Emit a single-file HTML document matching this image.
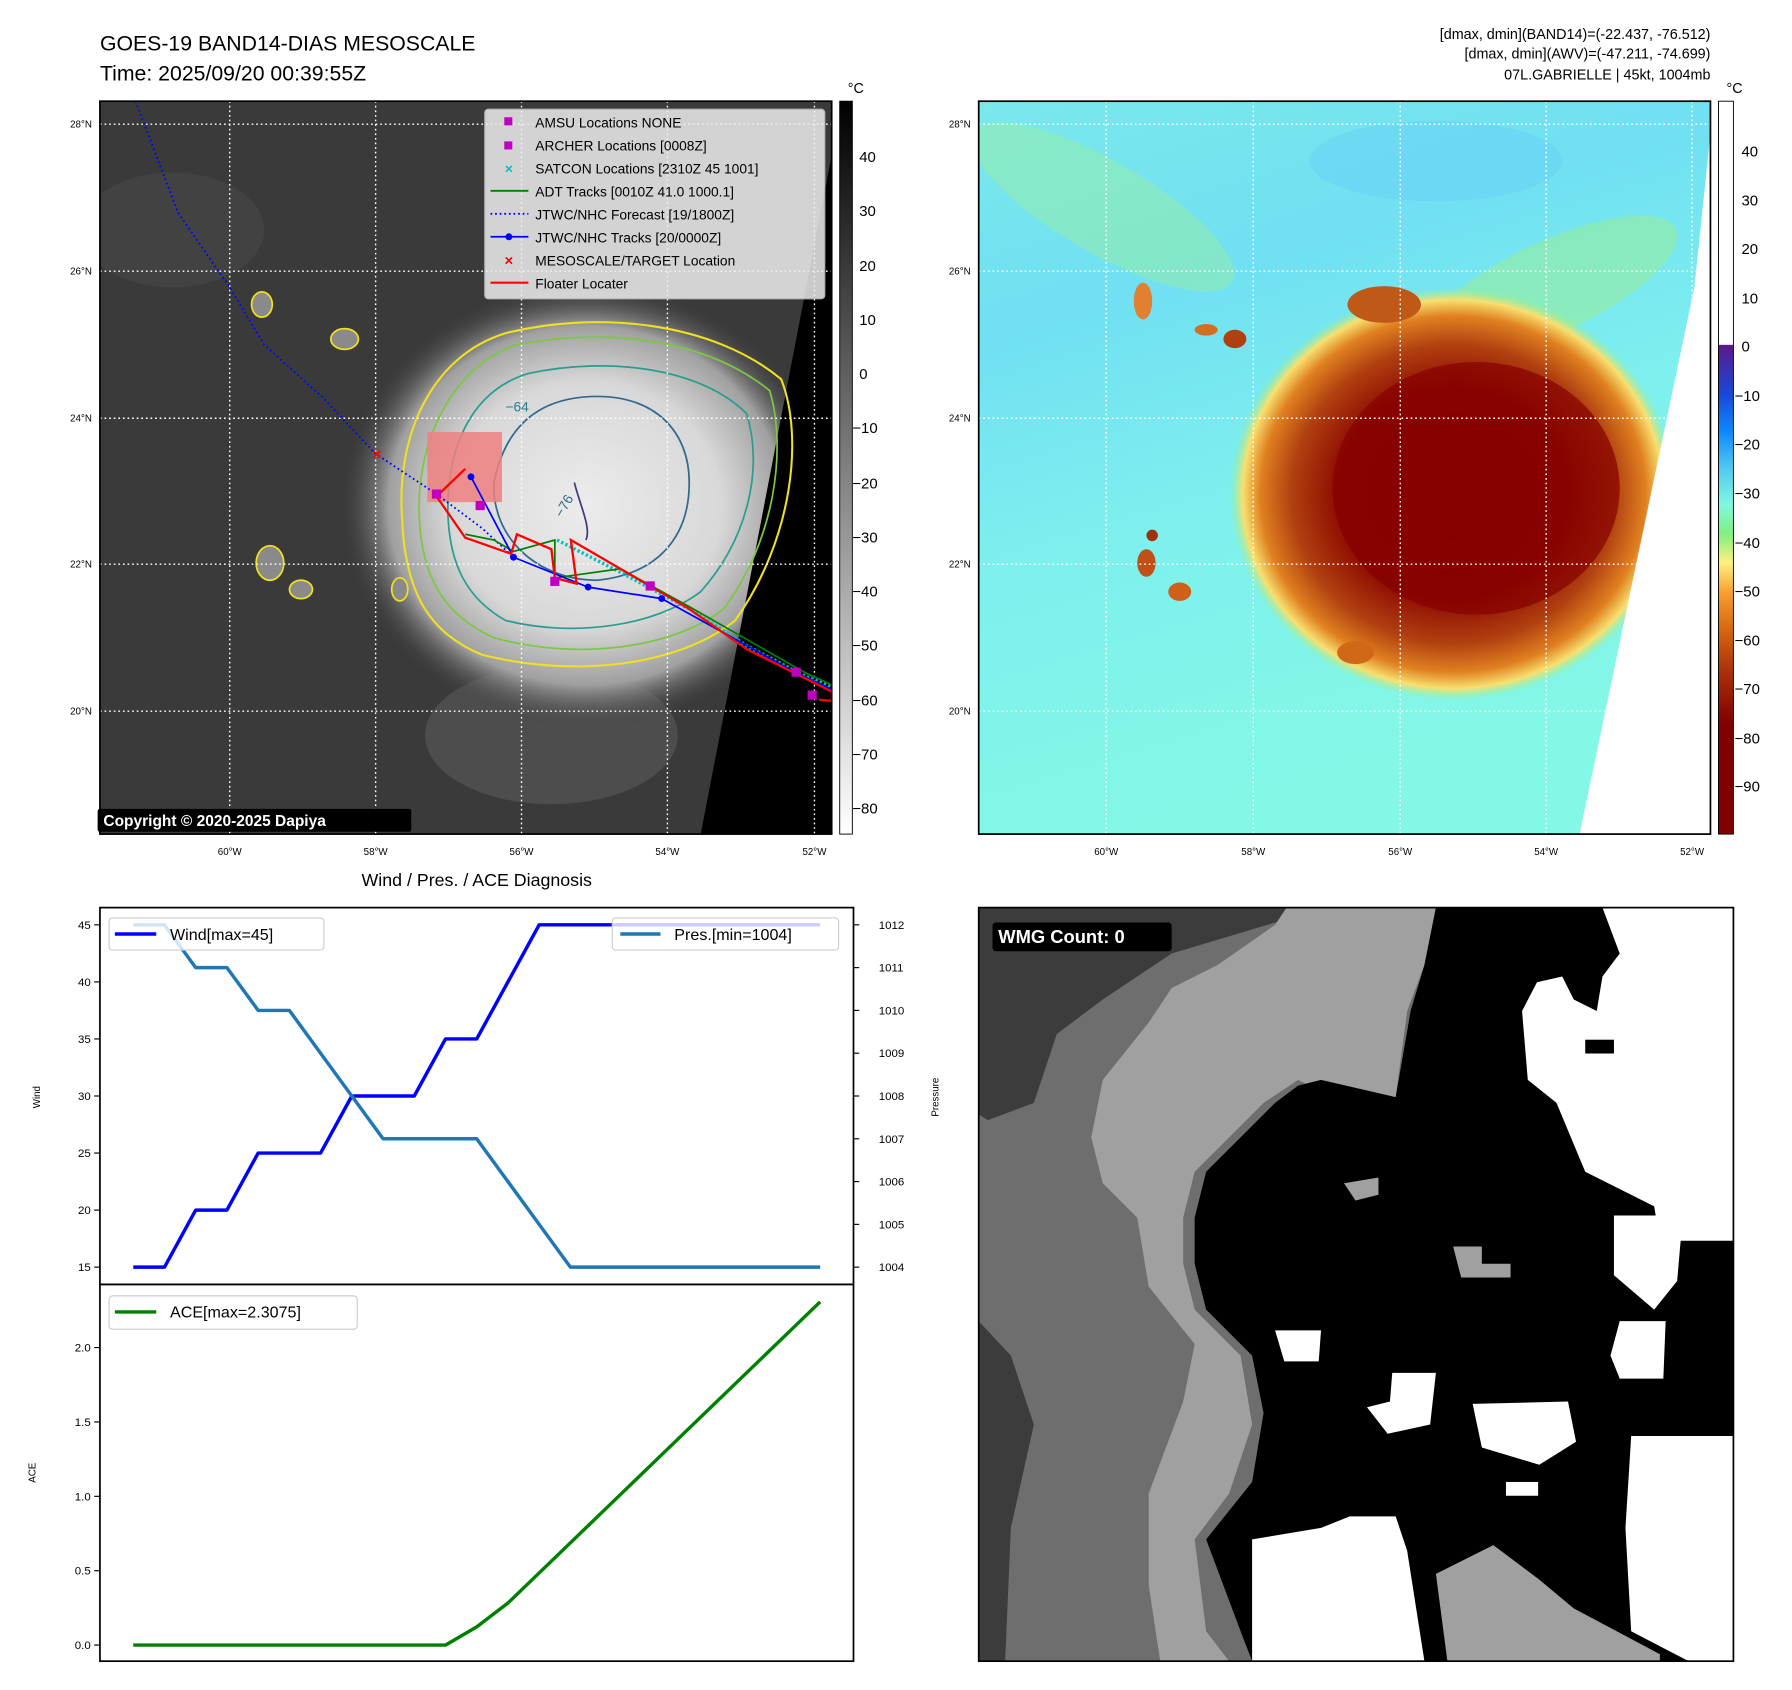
<!DOCTYPE html>
<html><head><meta charset="utf-8">
<style>
html,body{margin:0;padding:0;background:#fff;}
svg{display:block;font-family:"Liberation Sans","DejaVu Sans",sans-serif;}
</style></head>
<body>
<svg id="root" width="1792" height="1690" viewBox="0 0 1560 1471" xmlns="http://www.w3.org/2000/svg">
<defs>
  <radialGradient id="stormGray" cx="0.5" cy="0.5" r="0.5">
    <stop offset="0" stop-color="#ececec"/>
    <stop offset="0.55" stop-color="#d8d8d8"/>
    <stop offset="0.8" stop-color="#a0a0a0"/>
    <stop offset="1" stop-color="#3a3a3a" stop-opacity="0"/>
  </radialGradient>
  <radialGradient id="stormColor" cx="0.5" cy="0.5" r="0.5">
    <stop offset="0" stop-color="#840000"/>
    <stop offset="0.5" stop-color="#8c0800"/>
    <stop offset="0.72" stop-color="#b04010"/>
    <stop offset="0.86" stop-color="#e08020"/>
    <stop offset="0.94" stop-color="#f8e070"/>
    <stop offset="1" stop-color="#90f090" stop-opacity="0"/>
  </radialGradient>
  <linearGradient id="cbGray" x1="0" y1="0" x2="0" y2="1">
    <stop offset="0" stop-color="#000"/>
    <stop offset="1" stop-color="#fff"/>
  </linearGradient>
  <linearGradient id="cbColor" x1="0" y1="0" x2="0" y2="1">
    <stop offset="0" stop-color="#fff"/>
    <stop offset="0.332" stop-color="#fff"/>
    <stop offset="0.333" stop-color="#5a1a8a"/>
    <stop offset="0.40" stop-color="#1848d8"/>
    <stop offset="0.45" stop-color="#0c88ff"/>
    <stop offset="0.50" stop-color="#50c8f0"/>
    <stop offset="0.55" stop-color="#80f8e0"/>
    <stop offset="0.59" stop-color="#80f080"/>
    <stop offset="0.63" stop-color="#fff080"/>
    <stop offset="0.67" stop-color="#f8a030"/>
    <stop offset="0.72" stop-color="#d86810"/>
    <stop offset="0.78" stop-color="#a83008"/>
    <stop offset="0.85" stop-color="#800000"/>
    <stop offset="1" stop-color="#800000"/>
  </linearGradient>
  <linearGradient id="bgColor" x1="0" y1="0" x2="0.3" y2="1">
    <stop offset="0" stop-color="#7ae8ec"/>
    <stop offset="0.3" stop-color="#70e0f2"/>
    <stop offset="0.6" stop-color="#7ef0ee"/>
    <stop offset="1" stop-color="#84f8e6"/>
  </linearGradient>
  <clipPath id="clipTL"><rect x="87" y="88" width="637" height="638"/></clipPath>
  <clipPath id="clipTR"><rect x="852" y="88" width="637" height="638"/></clipPath>
  <clipPath id="clipWMG"><rect x="852" y="790" width="657" height="656"/></clipPath>
</defs>

<!-- ============ TOP LEFT MAP ============ -->
<g>
  <text x="87" y="44" font-size="18.5" fill="#000">GOES-19 BAND14-DIAS MESOSCALE</text>
  <text x="87" y="70" font-size="18.5" fill="#000">Time: 2025/09/20 00:39:55Z</text>
  <g clip-path="url(#clipTL)">
    <rect x="87" y="88" width="637" height="638" fill="#3a3a3a"/>
    <ellipse cx="150" cy="200" rx="80" ry="50" fill="#4a4a4a" opacity="0.5"/>
    <ellipse cx="480" cy="640" rx="110" ry="60" fill="#5a5a5a" opacity="0.6"/>
    <ellipse cx="510" cy="440" rx="215" ry="195" fill="url(#stormGray)"/>
    <polygon points="733,88 724,135 610,726 724,726 724,88" fill="#000"/>
    <path d="M350,450 C345,380 375,310 440,290 C520,270 620,280 680,330 C700,380 690,470 640,540 C590,580 500,590 420,570 C370,550 352,510 350,450 Z" fill="none" stroke="#f0e020" stroke-width="1.8"/>
    <path d="M365,450 C362,390 390,320 450,300 C530,285 615,295 670,340 C685,390 675,470 630,530 C585,565 500,575 430,555 C385,535 367,500 365,450 Z" fill="none" stroke="#7cc840" stroke-width="1.5"/>
    <path d="M390,450 C388,390 410,340 460,325 C530,310 610,320 650,360 C665,410 650,470 610,515 C570,545 500,555 440,540 C405,520 392,490 390,450 Z" fill="none" stroke="#2a9d8f" stroke-width="1.5"/>
    <path d="M430,420 C440,370 470,345 520,345 C570,345 600,375 600,420 C600,470 570,500 520,505 C470,505 428,470 430,420 Z" fill="none" stroke="#31688e" stroke-width="1.5"/>
    <path d="M500,420 C505,440 515,460 510,470" fill="none" stroke="#3b3b80" stroke-width="1.5"/>
    <ellipse cx="300" cy="295" rx="12" ry="9" fill="#8a8a8a" stroke="#f0e020" stroke-width="1.5"/>
    <ellipse cx="228" cy="265" rx="9" ry="11" fill="#8a8a8a" stroke="#f0e020" stroke-width="1.5"/>
    <ellipse cx="235" cy="490" rx="12" ry="15" fill="#8a8a8a" stroke="#f0e020" stroke-width="1.5"/>
    <ellipse cx="262" cy="513" rx="10" ry="8" fill="#8a8a8a" stroke="#f0e020" stroke-width="1.5"/>
    <ellipse cx="348" cy="513" rx="7" ry="10" fill="#8a8a8a" stroke="#f0e020" stroke-width="1.5"/>
    <g stroke="#fff" stroke-width="1.2" stroke-dasharray="1.5 2.5">
      <line x1="200" y1="88" x2="200" y2="726"/><line x1="327" y1="88" x2="327" y2="726"/><line x1="454" y1="88" x2="454" y2="726"/><line x1="581" y1="88" x2="581" y2="726"/><line x1="709" y1="88" x2="709" y2="726"/>
      <line x1="87" y1="108" x2="724" y2="108"/><line x1="87" y1="236" x2="724" y2="236"/><line x1="87" y1="364" x2="724" y2="364"/><line x1="87" y1="491" x2="724" y2="491"/><line x1="87" y1="619" x2="724" y2="619"/>
    </g>
    <rect x="372" y="376" width="65" height="61" fill="#f08080" opacity="0.85"/>
    <polyline points="118,88 155,185 200,250 230,300 280,345 327,395 380,430 420,460 447,485" fill="none" stroke="#0000ff" stroke-width="1.6" stroke-dasharray="1.5 2.5"/>
    <polyline points="485,470 540,498 600,530 650,562 700,588 724,598" fill="none" stroke="#00c0c0" stroke-width="3" stroke-dasharray="2 2"/>
    <polyline points="405,465 430,470 447,480 483,470 483,503 540,495 600,528 700,585 724,596" fill="none" stroke="#008000" stroke-width="1.5"/>
    <polyline points="410,415 447,485 512,511 576,521 692,585 724,600" fill="none" stroke="#0000ff" stroke-width="1.5"/>
    <g fill="#0000ff"><circle cx="410" cy="415" r="3"/><circle cx="447" cy="485" r="3"/><circle cx="512" cy="511" r="3"/><circle cx="576" cy="521" r="3"/><circle cx="692" cy="585" r="3"/></g>
    <polyline points="405,408 380,432 405,468 445,482 450,465 480,478 483,503 502,508 497,470 540,495 600,530 650,565 700,590 724,602 724,610 713,609" fill="none" stroke="#ff0000" stroke-width="2"/>
    <g fill="#c000c0"><rect x="376" y="426" width="8" height="8"/><rect x="414" y="436" width="8" height="8"/><rect x="479" y="502" width="8" height="8"/><rect x="562" y="506" width="8" height="8"/><rect x="689" y="581" width="8" height="8"/><rect x="703" y="601" width="8" height="8"/></g>
    <text x="328" y="400" font-size="14" font-weight="bold" fill="#ff0000" text-anchor="middle">×</text>
    <text x="440" y="358" font-size="12" fill="#2a7d8f">−64</text>
    <text x="480" y="445" font-size="12" fill="#31688e" transform="rotate(-60 490 440)">−76</text>
    <g>
      <rect x="422" y="95" width="296" height="165" rx="3" fill="#eeeeee" opacity="0.85" stroke="#ccc"/>
      <rect x="439" y="102" width="7" height="7" fill="#c000c0"/>
      <text x="466" y="111" font-size="12">AMSU Locations NONE</text>
      <rect x="439" y="123" width="7" height="7" fill="#c000c0"/>
      <text x="466" y="131" font-size="12">ARCHER Locations [0008Z]</text>
      <text x="443" y="151" font-size="12" fill="#00c0c0" text-anchor="middle" font-weight="bold">×</text>
      <text x="466" y="151" font-size="12">SATCON Locations [2310Z 45 1001]</text>
      <line x1="427" y1="166" x2="460" y2="166" stroke="#008000" stroke-width="1.6"/>
      <text x="466" y="171" font-size="12">ADT Tracks [0010Z 41.0 1000.1]</text>
      <line x1="427" y1="186" x2="460" y2="186" stroke="#0000ff" stroke-width="1.6" stroke-dasharray="1.5 2.5"/>
      <text x="466" y="191" font-size="12">JTWC/NHC Forecast [19/1800Z]</text>
      <line x1="427" y1="206" x2="460" y2="206" stroke="#0000ff" stroke-width="1.6"/><circle cx="443" cy="206" r="3" fill="#0000ff"/>
      <text x="466" y="211" font-size="12">JTWC/NHC Tracks [20/0000Z]</text>
      <text x="443" y="231" font-size="13" fill="#ff0000" text-anchor="middle" font-weight="bold">×</text>
      <text x="466" y="231" font-size="12">MESOSCALE/TARGET Location</text>
      <line x1="427" y1="246" x2="460" y2="246" stroke="#ff0000" stroke-width="1.8"/>
      <text x="466" y="251" font-size="12">Floater Locater</text>
    </g>
  </g>
  <rect x="87" y="88" width="637" height="638" fill="none" stroke="#000" stroke-width="1.5"/>
  <rect x="85" y="704" width="273" height="20" rx="2" fill="#000"/>
  <text x="90" y="719" font-size="13.5" font-weight="bold" fill="#fff">Copyright © 2020-2025 Dapiya</text>
  <g font-size="8.5" fill="#000" text-anchor="end">
    <text x="80" y="111">28°N</text><text x="80" y="239">26°N</text><text x="80" y="367">24°N</text><text x="80" y="494">22°N</text><text x="80" y="622">20°N</text>
  </g>
  <g font-size="8.5" fill="#000" text-anchor="middle">
    <text x="200" y="744">60°W</text><text x="327" y="744">58°W</text><text x="454" y="744">56°W</text><text x="581" y="744">54°W</text><text x="709" y="744">52°W</text>
  </g>
  <g>
    <rect x="731" y="88" width="11" height="638" fill="url(#cbGray)" stroke="#000" stroke-width="0.8"/>
    <text x="738" y="81" font-size="12.5">°C</text>
    <g font-size="13" fill="#000">
      <text x="748" y="141">40</text><text x="748" y="188">30</text><text x="748" y="236">20</text><text x="748" y="283">10</text><text x="748" y="330">0</text>
      <text x="742" y="377">−10</text><text x="742" y="425">−20</text><text x="742" y="472">−30</text><text x="742" y="519">−40</text><text x="742" y="566">−50</text><text x="742" y="614">−60</text><text x="742" y="661">−70</text><text x="742" y="708">−80</text>
    </g>
  </g>
</g>

<!-- ============ TOP RIGHT MAP ============ -->
<g>
  <g font-size="12.5" fill="#000" text-anchor="end">
    <text x="1489" y="34">[dmax, dmin](BAND14)=(-22.437, -76.512)</text>
    <text x="1489" y="51">[dmax, dmin](AWV)=(-47.211, -74.699)</text>
    <text x="1489" y="69">07L.GABRIELLE | 45kt, 1004mb</text>
  </g>
  <g clip-path="url(#clipTR)">
    <rect x="852" y="88" width="637" height="638" fill="url(#bgColor)"/>
    <ellipse cx="960" cy="180" rx="130" ry="40" fill="#a0f090" opacity="0.4" transform="rotate(30 960 180)"/>
    <ellipse cx="1250" cy="140" rx="110" ry="35" fill="#60c8f8" opacity="0.35"/>
    <ellipse cx="1350" cy="250" rx="120" ry="40" fill="#a0f080" opacity="0.45" transform="rotate(-25 1350 250)"/>
    <ellipse cx="1265" cy="430" rx="195" ry="180" fill="url(#stormColor)"/>
    <ellipse cx="1285" cy="425" rx="125" ry="110" fill="#860000" opacity="0.7"/>
    <ellipse cx="1205" cy="265" rx="32" ry="16" fill="#c05818"/>
    <ellipse cx="1180" cy="568" rx="16" ry="10" fill="#d06818"/>
    <ellipse cx="995" cy="262" rx="8" ry="16" fill="#e08030"/>
    <ellipse cx="1075" cy="295" rx="10" ry="8" fill="#b04010"/>
    <ellipse cx="1050" cy="287" rx="10" ry="5" fill="#d07020"/>
    <ellipse cx="998" cy="490" rx="8" ry="12" fill="#c05018"/>
    <ellipse cx="1027" cy="515" rx="10" ry="8" fill="#d06018"/>
    <ellipse cx="1003" cy="466" rx="5" ry="5" fill="#a03010"/>
    <polygon points="1492,88 1475,250 1375,726 1489,726 1489,88" fill="#fff"/>
    <g stroke="#fff" stroke-width="1.2" stroke-dasharray="1.5 2.5">
      <line x1="963" y1="88" x2="963" y2="726"/><line x1="1091" y1="88" x2="1091" y2="726"/><line x1="1219" y1="88" x2="1219" y2="726"/><line x1="1346" y1="88" x2="1346" y2="726"/><line x1="1473" y1="88" x2="1473" y2="726"/>
      <line x1="852" y1="108" x2="1489" y2="108"/><line x1="852" y1="236" x2="1489" y2="236"/><line x1="852" y1="364" x2="1489" y2="364"/><line x1="852" y1="491" x2="1489" y2="491"/><line x1="852" y1="619" x2="1489" y2="619"/>
    </g>
  </g>
  <rect x="852" y="88" width="637" height="638" fill="none" stroke="#000" stroke-width="1.5"/>
  <g font-size="8.5" fill="#000" text-anchor="end">
    <text x="845" y="111">28°N</text><text x="845" y="239">26°N</text><text x="845" y="367">24°N</text><text x="845" y="494">22°N</text><text x="845" y="622">20°N</text>
  </g>
  <g font-size="8.5" fill="#000" text-anchor="middle">
    <text x="963" y="744">60°W</text><text x="1091" y="744">58°W</text><text x="1219" y="744">56°W</text><text x="1346" y="744">54°W</text><text x="1473" y="744">52°W</text>
  </g>
  <g>
    <rect x="1496" y="88" width="13" height="638" fill="url(#cbColor)" stroke="#000" stroke-width="0.8"/>
    <text x="1503" y="81" font-size="12.5">°C</text>
    <g font-size="13" fill="#000">
      <text x="1516" y="136">40</text><text x="1516" y="179">30</text><text x="1516" y="221">20</text><text x="1516" y="264">10</text><text x="1516" y="306">0</text>
      <text x="1510" y="349">−10</text><text x="1510" y="391">−20</text><text x="1510" y="434">−30</text><text x="1510" y="477">−40</text><text x="1510" y="519">−50</text><text x="1510" y="562">−60</text><text x="1510" y="604">−70</text><text x="1510" y="647">−80</text><text x="1510" y="689">−90</text>
    </g>
  </g>
</g>

<!-- ============ BOTTOM LEFT CHART ============ -->
<g id="diag">
  <text x="415" y="771" font-size="15.5" text-anchor="middle">Wind / Pres. / ACE Diagnosis</text>
  <g id="upper"></g>
  <g id="lower"></g>
  <rect x="87" y="790" width="656" height="328" fill="none" stroke="#000" stroke-width="1.5"/>
  <rect x="87" y="1118" width="656" height="328" fill="none" stroke="#000" stroke-width="1.5"/>
  <text x="35" y="955" font-size="8.5" text-anchor="middle" transform="rotate(-90 35 955)">Wind</text>
  <text x="817" y="955" font-size="8.5" text-anchor="middle" transform="rotate(-90 817 955)">Pressure</text>
  <text x="31" y="1282" font-size="8.5" text-anchor="middle" transform="rotate(-90 31 1282)">ACE</text>
</g>

<!-- ============ BOTTOM RIGHT WMG ============ -->
<g>
  <g clip-path="url(#clipWMG)">
    <rect x="852" y="790" width="657" height="656" fill="#6e6e6e"/>
    <polygon points="852,790 1130,790 1120,800 1020,830 960,870 920,900 900,960 860,975 852,970" fill="#3c3c3c"/>
    <polygon points="852,1150 880,1180 900,1240 880,1330 875,1446 852,1446" fill="#3c3c3c"/>
    <polygon points="1120,790 1250,790 1240,840 1225,880 1215,955 1150,950 1130,940 1100,960 1070,990 1040,1020 1030,1060 1030,1100 1040,1140 1080,1180 1090,1240 1070,1300 1040,1340 1050,1420 1070,1446 1010,1446 1000,1380 1000,1300 1030,1220 1040,1170 1000,1120 990,1060 960,1030 950,990 960,940 1000,890 1020,860 1060,840 1110,805" fill="#a0a0a0"/>
    <polygon points="1250,790 1509,790 1509,1446 1090,1446 1080,1420 1050,1340 1090,1290 1100,1230 1090,1180 1050,1140 1040,1100 1040,1060 1050,1020 1080,990 1110,960 1130,945 1150,940 1215,955 1228,880 1240,840" fill="#000"/>
    <polygon points="1170,1030 1200,1025 1200,1040 1180,1045" fill="#a0a0a0"/>
    <polygon points="1265,1085 1290,1085 1290,1100 1315,1100 1315,1112 1272,1112" fill="#a0a0a0"/>
    <polygon points="1395,790 1509,790 1509,1080 1445,1080 1440,1050 1380,1020 1355,960 1330,940 1325,880 1338,855 1360,850 1370,870 1390,880 1395,850 1410,830" fill="#fff"/>
    <rect x="1380" y="905" width="25" height="12" fill="#000"/>
    <polygon points="1420,1250 1509,1250 1509,1446 1470,1446 1420,1420 1415,1330" fill="#fff"/>
    <polygon points="1090,1340 1150,1330 1175,1320 1215,1320 1225,1350 1240,1446 1090,1446" fill="#fff"/>
    <polygon points="1250,1370 1300,1345 1340,1375 1370,1400 1445,1440 1445,1446 1260,1446" fill="#a0a0a0"/>
    <polygon points="1110,1158 1150,1158 1148,1185 1118,1185" fill="#fff"/>
    <polygon points="1212,1195 1250,1195 1245,1240 1208,1248 1190,1225 1210,1220" fill="#fff"/>
    <polygon points="1282,1222 1365,1220 1372,1255 1340,1275 1290,1260" fill="#fff"/>
    <polygon points="1410,1150 1450,1150 1448,1200 1410,1200 1402,1180" fill="#fff"/>
    <polygon points="1405,1058 1465,1058 1460,1115 1440,1140 1405,1110" fill="#fff"/>
    <rect x="1311" y="1290" width="28" height="12" fill="#fff"/>
  </g>
  <rect x="852" y="790" width="657" height="656" fill="none" stroke="#000" stroke-width="1.5"/>
  <rect x="864" y="803" width="156" height="25" rx="3" fill="#000"/>
  <text x="869" y="821" font-size="16" font-weight="bold" fill="#fff">WMG Count: 0</text>
</g>
</svg>

<script>
const windValues = [15,15,20,20,25,25,25,30,30,30,35,35,40,45,45,45,45,45,45,45,45,45,45];
const presValues = [1012,1012,1011,1011,1010,1010,1009,1008,1007,1007,1007,1007,1006,1005,1004,1004,1004,1004,1004,1004,1004,1004,1004];
const aceValues = [0,0,0,0,0,0,0,0,0,0,0,0.1225,0.2825,0.485,0.6875,0.89,1.0925,1.295,1.4975,1.7,1.9025,2.105,2.3075];
const windTicks = [15,20,25,30,35,40,45];
const presTicks = [1004,1005,1006,1007,1008,1009,1010,1011,1012];
const aceTicks = [0.0,0.5,1.0,1.5,2.0];
const aceTickLabels = ["0.0","0.5","1.0","1.5","2.0"];

const NS = "http://www.w3.org/2000/svg";
const n = windValues.length;
function xOf(i){ return 116 + i * (714 - 116) / (n - 1); }
function yWind(v){ return 1103 - (v - 15) * (1103 - 805) / 30; }
function yPres(p){ return 1103 - (p - 1004) * (1103 - 805) / 8; }
function yAce(a){ return 1432 - a * (1432 - 1173) / 2; }
function mk(tag, attrs, parent){
  const e = document.createElementNS(NS, tag);
  for (const k in attrs) e.setAttribute(k, attrs[k]);
  parent.appendChild(e);
  return e;
}
const upper = document.getElementById('upper');
const lower = document.getElementById('lower');

windTicks.forEach(v => {
  const t = mk('line', {x1:82, x2:87, y1:yWind(v), y2:yWind(v), stroke:'#000', 'stroke-width':1}, upper);
  
  
  const l = mk('text', {x:79, y:yWind(v)+3.5, 'font-size':10, 'text-anchor':'end'}, upper);
  l.textContent = v;
  
  
});
presTicks.forEach(p => {
  const t = mk('line', {x1:743, x2:748, y1:yPres(p), y2:yPres(p), stroke:'#000', 'stroke-width':1}, upper);
  
  
  const l = mk('text', {x:765, y:yPres(p)+3.5, 'font-size':10}, upper);
  l.textContent = p;
  
  
});
aceTicks.forEach((a, k) => {
  const t = mk('line', {x1:82, x2:87, y1:yAce(a), y2:yAce(a), stroke:'#000', 'stroke-width':1}, lower);
  
  
  const l = mk('text', {x:79, y:yAce(a)+3.5, 'font-size':10, 'text-anchor':'end'}, lower);
  l.textContent = aceTickLabels[k];
  
  
});

const windPts = windValues.map((v,i) => xOf(i)+','+yWind(v)).join(' ');
const presPts = presValues.map((p,i) => xOf(i)+','+yPres(p)).join(' ');
const acePts = aceValues.map((a,i) => xOf(i)+','+yAce(a)).join(' ');

const wl = mk('polyline', {points:windPts, fill:'none', stroke:'#0000ff', 'stroke-width':3, 'stroke-linejoin':'round'}, upper);


const pl = mk('polyline', {points:presPts, fill:'none', stroke:'#1f77b4', 'stroke-width':3, 'stroke-linejoin':'round'}, upper);


const al = mk('polyline', {points:acePts, fill:'none', stroke:'#008000', 'stroke-width':3, 'stroke-linejoin':'round'}, lower);



const wlg = mk('g', {}, upper);


mk('rect', {x:95, y:799, width:187, height:28, rx:3, fill:'#fff', 'fill-opacity':0.8, stroke:'#ccc'}, wlg);
mk('line', {x1:100, x2:136, y1:813, y2:813, stroke:'#0000ff', 'stroke-width':3}, wlg);
const wt = mk('text', {x:148, y:818, 'font-size':14}, wlg); wt.textContent = 'Wind[max=' + Math.max(...windValues) + ']';

const plg = mk('g', {}, upper);


mk('rect', {x:533, y:799, width:197, height:28, rx:3, fill:'#fff', 'fill-opacity':0.8, stroke:'#ccc'}, plg);
mk('line', {x1:540, x2:575, y1:813, y2:813, stroke:'#1f77b4', 'stroke-width':3}, plg);
const pt = mk('text', {x:587, y:818, 'font-size':14}, plg); pt.textContent = 'Pres.[min=' + Math.min(...presValues) + ']';

const alg = mk('g', {}, lower);


mk('rect', {x:95, y:1128, width:216, height:29, rx:3, fill:'#fff', 'fill-opacity':0.8, stroke:'#ccc'}, alg);
mk('line', {x1:100, x2:136, y1:1142, y2:1142, stroke:'#008000', 'stroke-width':3}, alg);
const at = mk('text', {x:148, y:1147, 'font-size':14}, alg); at.textContent = 'ACE[max=' + Math.max(...aceValues) + ']';
</script>
</body></html>
